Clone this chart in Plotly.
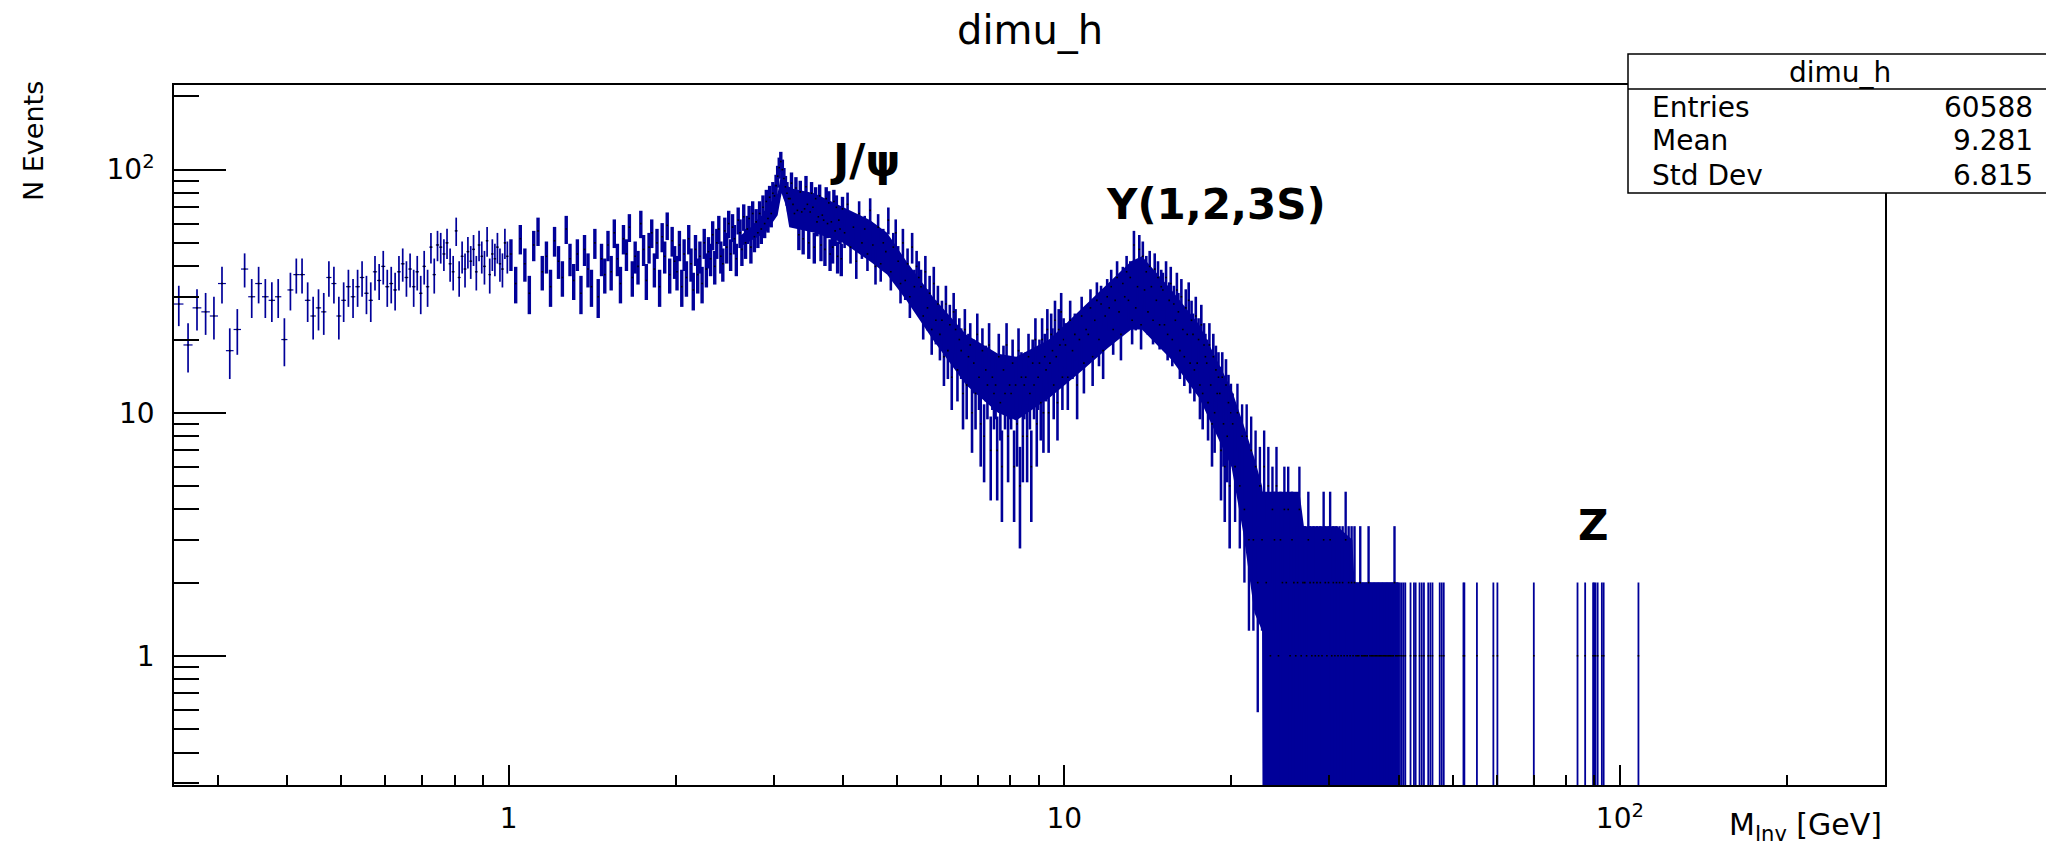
import numpy as np
import plotly.graph_objects as go

# ---------------- data ----------------
# bin counts of the dimuon invariant-mass histogram (bin width 0.01 GeV)
# region A: 0.25-1.00 GeV, every bin
nA = [28, 19, 27, 26, 25, 34, 18, 22, 39, 30,
      34, 30, 29, 30, 20, 32, 37, 37, 29, 25,
      27, 26, 36, 34, 25, 29, 33, 30, 33, 36,
      31, 29, 38, 35, 40, 33, 34, 32, 38, 41,
      36, 39, 33, 38, 31, 40, 33, 48, 37, 49,
      48, 45, 50, 41, 38, 56, 36, 44, 39, 46,
      42, 47, 38, 49, 44, 40, 51, 37, 45, 43,
      48, 41, 39, 50, 44]
# region B: 1.0-4.0 GeV, every second bin
nB = [45, 34, 52, 41, 31, 49, 56, 38, 44, 33, 51, 42, 36, 57, 43,
      35, 45, 31, 47, 39, 33, 50, 30, 43, 37,
      49, 38, 55, 43, 34, 52, 45, 58, 36, 44, 40, 60, 47, 35, 48,
      55, 39, 50, 33, 53, 44, 59, 37, 51, 42,
      38, 49, 33, 45, 36, 52, 41, 32, 47, 37, 44, 34, 50, 39, 46,
      43, 54, 40, 50, 57, 44, 41, 56, 48, 60, 45, 58, 52, 43, 62,
      55, 47, 64, 50, 57, 63, 48, 66, 53, 61,
      55, 66, 57, 70, 60, 74, 63, 77, 66, 80,
      78, 86, 94, 102, 108, 100, 92, 85, 80, 76,
      76, 88, 72, 66, 84, 68, 54, 81, 67, 52,
      69, 85, 72, 50, 67, 80, 70, 48, 76, 61,
      64, 78, 49, 65, 62, 47, 76, 60, 73, 45,
      61, 48, 74, 56, 70, 44, 62, 57, 43, 69]
# region C1: 4-10 GeV, one bin every 0.05 GeV
nC1 = [55, 72, 48, 58, 42, 66, 50, 57, 45, 68,
       49, 40, 58, 41, 50, 46, 62, 38, 48, 55,
       42, 34, 50, 35, 41, 30, 48, 33, 40, 36,
       33, 25, 38, 27, 31, 22, 34, 24, 28, 21,
       24, 17, 28, 18, 23, 14, 26, 22, 15, 20,
       18, 12, 22, 13, 17, 19, 10, 16, 12, 21,
       14, 9, 18, 8, 15, 13, 19, 7, 14, 12,
       13, 7, 17, 11, 6, 15, 12, 19, 8, 13,
       12, 16, 6, 13, 9, 18, 5, 14, 8, 13,
       14, 8, 17, 12, 6, 16, 13, 20, 9, 14,
       16, 11, 20, 10, 17, 15, 22, 10, 16, 21,
       18, 13, 24, 17, 11, 22, 19, 26, 14, 20]
# region C2: 10-20 GeV, one bin every 0.1 GeV
nC2 = [19, 14, 24, 18, 21, 13, 20, 25, 16, 22,
       21, 27, 17, 24, 29, 20, 28, 18, 25, 30,
       27, 33, 22, 29, 36, 26, 21, 34, 30, 38,
       29, 36, 24, 49, 27, 33, 47, 23, 44, 32,
       38, 26, 40, 33, 24, 39, 29, 36, 23, 33,
       32, 23, 36, 21, 29, 34, 20, 28, 24, 32,
       26, 18, 30, 22, 17, 27, 21, 29, 16, 24,
       21, 15, 25, 16, 20, 13, 23, 12, 19, 17,
       16, 11, 19, 13, 9, 17, 10, 15, 12, 14,
       12, 7, 14, 9, 6, 13, 8, 11, 5, 10]
# region C3: 20-40 GeV, one bin every 0.2 GeV
nC3 = [9, 6, 10, 5, 8,  4, 8, 3, 7, 3,  6, 2, 5, 3, 6,  2, 5, 1, 4, 3,
       5, 1, 3, 2, 4,  2, 4, 1, 3, 2,  1, 2, 4, 1, 2,  2, 1, 3, 2, 1,
       2, 1, 2, 1, 2,  1, 3, 2, 1, 2,  3, 1, 2, 1, 2,  1, 2, 1, 2, 1,
       3, 1, 2, 1, 2,  1, 2, 1, 1, 1,  2, 1, 1, 1, 1,  1, 2, 1, 1, 1,
       1, 1, 1, 1, 1,  1, 1, 1, 1, 1,  1, 1, 1, 1, 1,  1, 2, 1, 1, 1]
# tail: isolated single-entry bins above 40 GeV
tail_mass = [40.2, 40.5, 40.8, 41.1, 42.0, 42.6, 42.9, 43.6, 44.0, 44.4,
             45.2, 45.6, 46.0, 47.4, 47.8, 48.2, 52.3, 52.5, 55.3, 59.2,
             60.2, 70.0, 83.9, 86.6, 89.5, 89.9, 90.4, 91.2, 92.8, 93.5,
             108.0]
tail_n = [1] * len(tail_mass)

# solid core where neighbouring bins merge into one dark band
core_mass = [2.6, 2.9, 3.05, 3.1, 3.15, 3.2, 3.55, 4.0, 4.47,
             4.8, 5.2, 5.8, 6.66, 7.6, 8.2, 9.4, 10.8, 12.0, 13.2, 13.8,
             15.6, 17.5, 20.0, 21.0, 22.0, 22.7, 22.75, 26.5, 27.0, 31.0,
             33.0, 33.3, 40.0]
core_lo = [48, 55, 65, 80, 72, 58, 55, 50, 42,
           37, 29, 20, 13, 10, 9.3, 11.5, 15, 18.5, 22, 22,
           16.5, 11.5, 6, 3.2, 1.5, 1.27, 0.2, 0.2, 0.2, 0.2,
           0.2, 0.2, 0.2]
core_hi = [53, 65, 80, 98, 90, 84, 80, 70, 62,
           55, 42, 30, 21, 17.5, 17, 20, 27, 34, 42, 44,
           32, 23, 12.5, 9, 6.5, 5, 4.73, 4.73, 3.41, 3.41,
           3.0, 2.0, 2.0]

# histogram binning (GeV)
BIN_W = 0.01
regions = [  # (first bin centre, sampling step, counts)
    (0.255, 0.01, nA),
    (1.01, 0.02, nB),
    (4.025, 0.05, nC1),
    (10.05, 0.10, nC2),
    (20.10, 0.20, nC3),
]

stats_name = "dimu_h"
stats_labels = ["Entries", "Mean", "Std Dev"]
stats_values = ["60588", "9.281", "6.815"]

x_tickvals = [1, 10, 100]
x_ticktext = ["1", "10", "10<sup>2</sup>"]
y_tickvals = [1, 10, 100]
y_ticktext = ["1", "10", "10<sup>2</sup>"]
x_minor = [0.3, 0.4, 0.5, 0.6, 0.7, 0.8, 0.9, 2, 3, 4, 5, 6, 7, 8, 9,
           20, 30, 40, 50, 60, 70, 80, 90, 200, 300]
y_minor = [0.3, 0.4, 0.5, 0.6, 0.7, 0.8, 0.9, 2, 3, 4, 5, 6, 7, 8, 9,
           20, 30, 40, 50, 60, 70, 80, 90, 200]

# ---------------- figure ----------------
OFF = 8                      # page body margin of the html
W, H = 2054 - OFF, 852 - OFF
L, R, T, B = 174 - OFF, 1885 - OFF, 85 - OFF, 785 - OFF
BLUE = "#000099"
FONT = "DejaVu Sans"


def px(xp, yp):
    """reference-picture pixel -> paper coordinates"""
    return (xp - OFF - L) / (R - L), (B - (yp - OFF)) / (B - T)


fig = go.Figure()

# merged core of the dense region
fig.add_trace(go.Scatter(
    x=core_mass + core_mass[::-1], y=core_hi + core_lo[::-1],
    mode="lines", fill="toself", fillcolor=BLUE,
    line=dict(width=0, color=BLUE), hoverinfo="skip"))

thick = [1.7, 3.4, 2.6, 2.6, 2.4]
for (c0, step, counts), th in zip(regions, thick):
    n = np.array(counts, dtype=float)
    x = c0 + step * np.arange(len(n))
    err = np.sqrt(n)
    fig.add_trace(go.Scatter(
        x=x, y=n, mode="markers",
        marker=dict(color="black", size=1.6, symbol="square"),
        error_y=dict(type="data", array=err, arrayminus=err, color=BLUE,
                     thickness=th, width=0),
        error_x=dict(type="data", array=np.full(len(n), BIN_W / 2),
                     color=BLUE, thickness=1.2, width=0),
        hoverinfo="skip"))

tn = np.array(tail_n, dtype=float)
fig.add_trace(go.Scatter(
    x=tail_mass, y=tn, mode="markers",
    marker=dict(color="black", size=1.6, symbol="square"),
    error_y=dict(type="data", array=np.sqrt(tn), arrayminus=np.sqrt(tn),
                 color=BLUE, thickness=1.8, width=0),
    error_x=dict(type="data", array=np.full(len(tn), BIN_W / 2),
                 color=BLUE, thickness=1.2, width=0),
    hoverinfo="skip"))

axis_common = dict(type="log", showgrid=False, zeroline=False, showline=True,
                   linecolor="black", linewidth=1.5, mirror=True,
                   ticks="inside", tickcolor="black", tickwidth=1.5,
                   tickfont=dict(family=FONT, size=28, color="black"))

fig.update_xaxes(**axis_common, range=[np.log10(0.25), np.log10(300)],
                 tickvals=x_tickvals, ticktext=x_ticktext, ticklen=20,
                 ticklabelstandoff=8,
                 minor=dict(ticks="inside", ticklen=10, tickwidth=1.5,
                            tickcolor="black", tickvals=x_minor))
fig.update_yaxes(**axis_common, range=[np.log10(0.294), np.log10(223)],
                 tickvals=y_tickvals, ticktext=y_ticktext, ticklen=52,
                 ticklabelstandoff=12,
                 minor=dict(ticks="inside", ticklen=25, tickwidth=1.5,
                            tickcolor="black", tickvals=y_minor))

ann = []


def add_text(text, xp, yp, size, xanchor="center", yanchor="middle",
             angle=0, bold=False):
    xx, yy = px(xp, yp)
    ann.append(dict(text=f"<b>{text}</b>" if bold else text, x=xx, y=yy,
                    xref="paper", yref="paper", xanchor=xanchor,
                    yanchor=yanchor, showarrow=False, textangle=angle,
                    font=dict(family=FONT, size=size, color="black")))


add_text("dimu_h", 1030, 31, 40)
add_text("N Events", 34, 141, 27, angle=-90)
add_text("M<sub>Inv</sub> [GeV]", 1884, 826, 30, xanchor="right")
add_text("J/ψ", 865, 161, 44, bold=True)
add_text("Y(1,2,3S)", 1216, 205, 42, bold=True)
add_text("Z", 1593, 525, 42, bold=True)

# stats box
bx0, by0, bx1, by1, bdiv = 1628, 54, 2051, 193, 89
x0, y0 = px(bx0, by0)
x1, y1 = px(bx1, by1)
_, yd = px(bx0, bdiv)
shapes = [
    dict(type="rect", xref="paper", yref="paper", x0=x0, x1=x1, y0=y1, y1=y0,
         line=dict(color="black", width=1.5), fillcolor="white", layer="above"),
    dict(type="line", xref="paper", yref="paper", x0=x0, x1=x1, y0=yd, y1=yd,
         line=dict(color="black", width=1.5), layer="above"),
]
add_text(stats_name, (bx0 + bx1) / 2, 72, 28)
for i, (lab, val) in enumerate(zip(stats_labels, stats_values)):
    yrow = 107 + 34 * i
    add_text(lab, 1650, yrow, 28, xanchor="left")
    add_text(val, 2035, yrow, 28, xanchor="right")

fig.update_layout(width=W, height=H,
                  margin=dict(l=L, r=W - R, t=T, b=H - B, autoexpand=False),
                  paper_bgcolor="white", plot_bgcolor="white",
                  showlegend=False, annotations=ann, shapes=shapes)

fig.write_html("out.html")
